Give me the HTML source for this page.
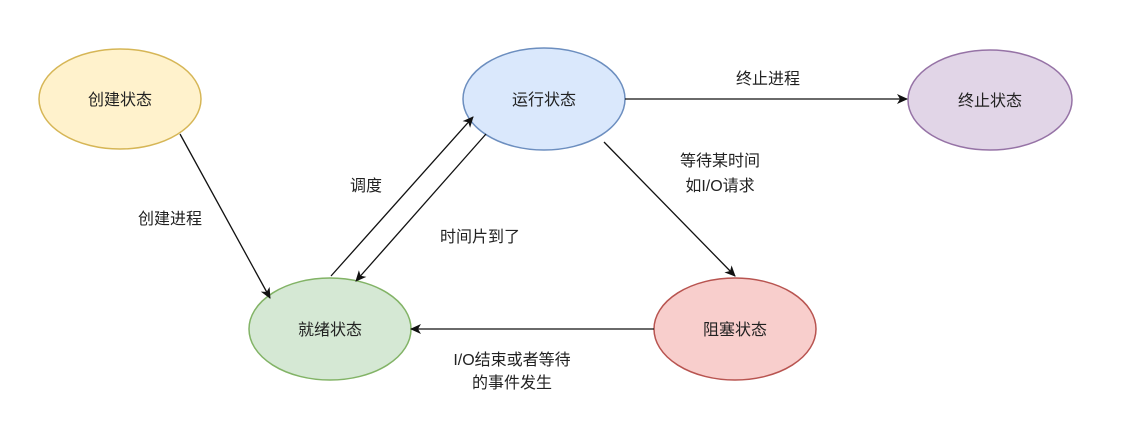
<!DOCTYPE html>
<html><head><meta charset="utf-8"><style>
html,body{margin:0;padding:0;background:#fff;}
svg text{font-family:"Liberation Sans","Noto Sans CJK SC",sans-serif;font-size:16px;fill:#222;}
</style></head><body>
<svg width="1145" height="433" viewBox="0 0 1145 433" xmlns="http://www.w3.org/2000/svg">
<defs><marker id="a" markerWidth="12" markerHeight="12" refX="10" refY="6" orient="auto" markerUnits="userSpaceOnUse"><path d="M0,1 L11,6 L0,11 L3,6 Z" fill="#111"/></marker></defs>
<ellipse cx="120" cy="99" rx="81" ry="50" fill="#fff2cc" stroke="#d6b656" stroke-width="1.5"/>
<ellipse cx="544" cy="99" rx="81" ry="51" fill="#dae8fc" stroke="#6c8ebf" stroke-width="1.5"/>
<ellipse cx="990" cy="100" rx="82" ry="50" fill="#e1d5e7" stroke="#9673a6" stroke-width="1.5"/>
<ellipse cx="330" cy="329" rx="81" ry="51" fill="#d5e8d4" stroke="#82b366" stroke-width="1.5"/>
<ellipse cx="735" cy="329" rx="81" ry="51" fill="#f8cecc" stroke="#b85450" stroke-width="1.5"/>
<g stroke="#111" stroke-width="1.3" fill="none" marker-end="url(#a)">
<line x1="180" y1="134" x2="270" y2="298"/>
<line x1="331" y1="276" x2="473" y2="117"/>
<line x1="486" y1="134" x2="356" y2="281"/>
<line x1="625" y1="99" x2="907" y2="99"/>
<line x1="604" y1="142" x2="735" y2="276"/>
<line x1="654" y1="329" x2="411" y2="329"/>
</g>
<g text-anchor="middle">
<text x="120" y="105">创建状态</text>
<text x="544" y="105">运行状态</text>
<text x="990" y="106">终止状态</text>
<text x="330" y="335">就绪状态</text>
<text x="735" y="335">阻塞状态</text>
<text x="170" y="224">创建进程</text>
<text x="366" y="191">调度</text>
<text x="480" y="242">时间片到了</text>
<text x="768" y="84">终止进程</text>
<text x="720" y="166">等待某时间</text>
<text x="720" y="191">如I/O请求</text>
<text x="512" y="365">I/O结束或者等待</text>
<text x="512" y="388">的事件发生</text>
</g>
</svg>
</body></html>
